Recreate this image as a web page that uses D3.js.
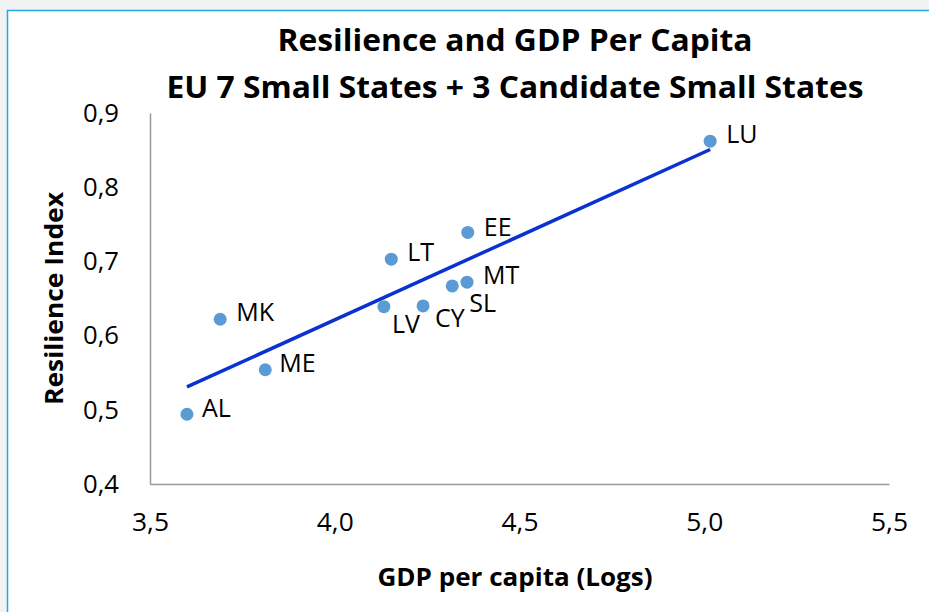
<!DOCTYPE html>
<html>
<head>
<meta charset="utf-8">
<script src="https://cdn.jsdelivr.net/npm/d3@7"></script>
<style>
  html, body { margin: 0; padding: 0; background: #f2f2f2; }
  svg { display: block; }
</style>
</head>
<body>
<svg id="chart" width="929" height="612"></svg>
<script>
// ---- data ----
const countries = ["AL", "MK", "ME", "LT", "LV", "CY", "SL", "MT", "EE", "LU"];
const gdpLog    = [3.600, 3.690, 3.812, 4.153, 4.133, 4.239, 4.318, 4.358, 4.360, 5.016];
const resilience= [0.494, 0.622, 0.554, 0.703, 0.639, 0.640, 0.667, 0.672, 0.739, 0.862];
const xTicks = [3.5, 4.0, 4.5, 5.0, 5.5];
const yTicks = [0.4, 0.5, 0.6, 0.7, 0.8, 0.9];
const titleLines = ["Resilience and GDP Per Capita", "EU 7 Small States + 3 Candidate Small States"];
const xTitle = "GDP per capita (Logs)";
const yTitle = "Resilience Index";

// label nudges (annotation layout, px)
const labelNudge = {
  AL: [15, -6], MK: [16, -7], ME: [14, -6], LT: [16, -7], LV: [8, 18],
  CY: [12, 12], SL: [17, 17], MT: [16, -7], EE: [16, -5], LU: [16, -7]
};

const svg = d3.select("#chart");
const font = "'Open Sans', 'DejaVu Sans', sans-serif";

// frame
svg.append("rect").attr("x", 7.5).attr("y", 10.5).attr("width", 940).attr("height", 620)
  .attr("fill", "#ffffff").attr("stroke", "#22a8e6").attr("stroke-width", 1.5);

const plot = { left: 150, right: 889, top: 113, bottom: 484 };
const x = d3.scaleLinear().domain([3.5, 5.5]).range([plot.left, plot.right]);
const y = d3.scaleLinear().domain([0.4, 0.9]).range([plot.bottom, plot.top]);

const fmt = d => d3.format(".1f")(d).replace(".", ",");

// axes
const xAxis = svg.append("g").attr("transform", `translate(0,${plot.bottom})`)
  .call(d3.axisBottom(x).tickValues(xTicks).tickFormat(fmt).tickSize(0).tickPadding(29));
const yAxis = svg.append("g").attr("transform", `translate(${plot.left},0)`)
  .call(d3.axisLeft(y).tickValues(yTicks).tickFormat(fmt).tickSize(0).tickPadding(31));
[xAxis, yAxis].forEach(g => {
  g.select(".domain").attr("stroke", "#9a9a9a").attr("stroke-width", 1.5);
  g.selectAll("text").attr("font-family", font).attr("font-size", 26).attr("fill", "#000");
});
xAxis.selectAll("text").attr("textLength", 37).attr("lengthAdjust", "spacingAndGlyphs");
yAxis.selectAll("text").attr("textLength", 36).attr("lengthAdjust", "spacingAndGlyphs");

// trendline (least squares)
const n = gdpLog.length;
const mx = d3.mean(gdpLog), my = d3.mean(resilience);
let sxy = 0, sxx = 0;
for (let i = 0; i < n; i++) { sxy += (gdpLog[i]-mx)*(resilience[i]-my); sxx += (gdpLog[i]-mx)**2; }
const slope = sxy / sxx, intercept = my - slope * mx;
const [x0, x1] = d3.extent(gdpLog);
svg.append("line")
  .attr("x1", x(x0)).attr("y1", y(intercept + slope * x0))
  .attr("x2", x(x1)).attr("y2", y(intercept + slope * x1))
  .attr("stroke", "#0a32d2").attr("stroke-width", 3.5);

// points
const pts = countries.map((c, i) => ({ c, gx: gdpLog[i], ry: resilience[i] }));
svg.append("g").selectAll("circle").data(pts).join("circle")
  .attr("cx", d => x(d.gx)).attr("cy", d => y(d.ry)).attr("r", 6.5)
  .attr("fill", "#5b9bd5");

// labels
svg.append("g").selectAll("text").data(pts).join("text")
  .attr("x", d => x(d.gx) + labelNudge[d.c][0])
  .attr("y", d => y(d.ry) + labelNudge[d.c][1])
  .attr("dy", "0.35em")
  .attr("font-family", font).attr("font-size", 25).attr("fill", "#000")
  .text(d => d.c);

// titles
svg.append("text").attr("x", 515).attr("y", 51).attr("text-anchor", "middle")
  .attr("font-family", font).attr("font-weight", "bold").attr("font-size", 31)
  .attr("textLength", 475).attr("lengthAdjust", "spacingAndGlyphs")
  .text(titleLines[0]);
svg.append("text").attr("x", 515).attr("y", 98).attr("text-anchor", "middle")
  .attr("font-family", font).attr("font-weight", "bold").attr("font-size", 31)
  .attr("textLength", 697).attr("lengthAdjust", "spacingAndGlyphs")
  .text(titleLines[1]);

svg.append("text").attr("x", 515).attr("y", 586).attr("text-anchor", "middle")
  .attr("font-family", font).attr("font-weight", "bold").attr("font-size", 25)
  .attr("textLength", 275).attr("lengthAdjust", "spacingAndGlyphs")
  .text(xTitle);

svg.append("text").attr("transform", `translate(63,${(plot.top+plot.bottom)/2}) rotate(-90)`)
  .attr("text-anchor", "middle")
  .attr("font-family", font).attr("font-weight", "bold").attr("font-size", 25)
  .attr("textLength", 213).attr("lengthAdjust", "spacingAndGlyphs")
  .text(yTitle);
</script>
</body>
</html>
